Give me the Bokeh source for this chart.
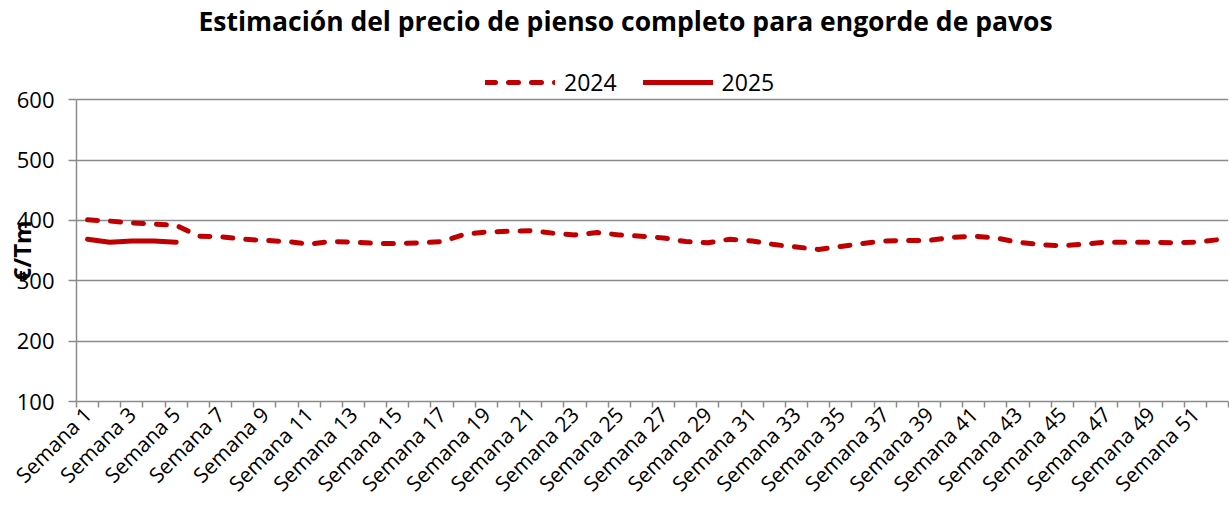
from bokeh.plotting import figure
from bokeh.models import FixedTicker, Legend, LegendItem, Label, Range1d
from bokeh.embed import file_html
from bokeh.resources import INLINE
import math

weeks = list(range(1, 53))
week_labels = ["Semana %d" % w for w in weeks]
price_2024 = [401, 399, 396, 394, 392, 374, 373, 369, 367, 365, 361, 365, 364,
              362, 362, 363, 365, 377, 381, 382, 383, 379, 376, 380, 376, 374,
              371, 365, 363, 369, 366, 360, 356, 352, 357, 362, 366, 367, 367,
              372, 374, 371, 364, 360, 358, 361, 364, 364, 364, 363, 364, 368]
weeks_2025 = [1, 2, 3, 4, 5]
price_2025 = [369, 364, 366, 366, 364]
y_ticks = [100, 200, 300, 400, 500, 600]
title_text = "Estimación del precio de pienso completo para engorde de pavos"
y_title = "€/Tm"

RED = "#C00000"
GRID = "#8c8c8c"
FONT = "Open Sans"

# frame spans the full canvas height above the x axis; the visible y scale is 100-600
p = figure(width=1229, height=509, output_backend="svg", title_location=None,
           toolbar_location=None, min_border_left=76, min_border_right=1,
           min_border_top=0, min_border_bottom=105,
           x_range=Range1d(0.5, 52.5), y_range=Range1d(100, 764.5))

l1 = p.line(weeks, price_2024, line_color=RED, line_width=5, line_dash="10 13",
            line_cap="round")
l2 = p.line(weeks_2025, price_2025, line_color=RED, line_width=5, line_cap="round")

p.outline_line_color = None
p.background_fill_color = "white"

# x axis
p.xaxis.ticker = FixedTicker(ticks=weeks[::2], minor_ticks=[w - 0.5 for w in weeks] + [52.5])
p.xaxis.major_label_overrides = {w: lab for w, lab in zip(weeks, week_labels)}
p.xaxis.major_label_orientation = math.pi / 4
p.xaxis.major_tick_out = 0
p.xaxis.major_tick_in = 0
p.xaxis.minor_tick_out = 6
p.xaxis.minor_tick_in = 0
p.xaxis.minor_tick_line_color = GRID
p.xaxis.minor_tick_line_width = 1.5
p.xaxis.axis_line_color = GRID
p.xaxis.axis_line_width = 1.5
p.xaxis.major_label_text_font = FONT
p.xaxis.major_label_text_font_size = "21px"
p.xaxis.major_label_text_color = "#000000"
p.xaxis.major_label_standoff = 3
p.xgrid.grid_line_color = None

# y axis
p.yaxis.ticker = FixedTicker(ticks=y_ticks)
p.yaxis.bounds = (y_ticks[0], y_ticks[-1])
p.yaxis.major_tick_out = 8
p.yaxis.major_tick_in = 0
p.yaxis.minor_tick_line_color = None
p.yaxis.major_tick_line_color = GRID
p.yaxis.major_tick_line_width = 1.5
p.yaxis.axis_line_color = GRID
p.yaxis.axis_line_width = 1.5
p.yaxis.major_label_text_font = FONT
p.yaxis.major_label_text_font_size = "22px"
p.yaxis.major_label_text_color = "#000000"
p.yaxis.major_label_standoff = 14
# trailing no-break spaces shift the centred label down to the middle of the 100-600 scale
p.yaxis.axis_label = y_title + "\u00a0" * 16
p.yaxis.axis_label_text_font = FONT
p.yaxis.axis_label_text_font_style = "bold"
p.yaxis.axis_label_text_font_size = "24px"
p.yaxis.axis_label_text_color = "#000000"
p.yaxis.axis_label_standoff = -24
p.ygrid.grid_line_color = GRID
p.ygrid.grid_line_width = 1.5

legend = Legend(items=[LegendItem(label="2024", renderers=[l1]),
                       LegendItem(label="2025", renderers=[l2])],
                orientation="horizontal", location=(409, 303),
                glyph_width=70, glyph_height=24, label_text_font=FONT,
                label_text_font_size="23px", label_text_color="#000000",
                label_standoff=9, spacing=26, label_height=24,
                border_line_color=None, background_fill_alpha=0,
                padding=0, margin=0)
p.add_layout(legend, "center")

title = Label(x=549, y=381, x_units="screen", y_units="screen", text=title_text,
              text_align="center", text_baseline="middle", text_font=FONT,
              text_font_size="26.5px", text_font_style="bold", text_color="#000000")
p.add_layout(title)

open("out.html", "w").write(file_html(p, INLINE))
